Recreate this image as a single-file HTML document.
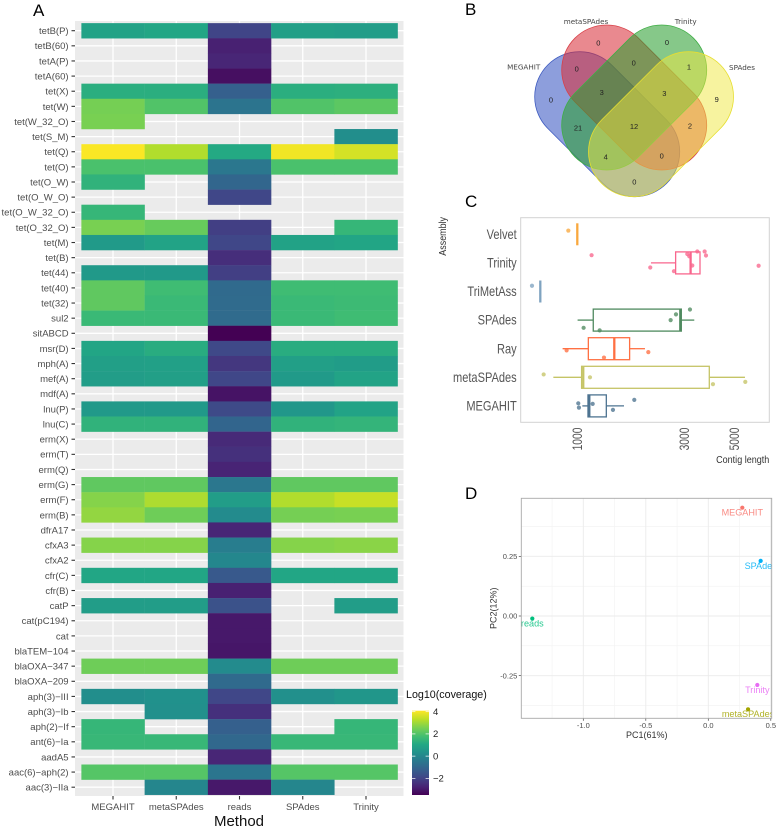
<!DOCTYPE html>
<html lang="en">
<head>
<meta charset="utf-8">
<title>Antibiotic resistance gene coverage, assembly comparison</title>
<style>
html,body{margin:0;padding:0;background:#fff;}
svg{display:block;font-family:"Liberation Sans",Arial,sans-serif;}
</style>
</head>
<body>
<svg id="fig" xmlns="http://www.w3.org/2000/svg" width="777" height="828" viewBox="0 0 777 828">
  <defs>
    <linearGradient id="viridisGrad" x1="0" y1="1" x2="0" y2="0"></linearGradient>
    <clipPath id="pcaClip"><rect x="521.3" y="498.3" width="250.4" height="220"></rect></clipPath>
  </defs>

  <text x="33" y="16" font-size="17">A</text>
  <text x="465" y="15" font-size="17">B</text>
  <text x="465" y="207" font-size="17">C</text>
  <text x="465" y="499" font-size="17">D</text>

  <g id="heatmap"></g>

  <g id="venn">
    <rect x="-83.9" y="-45" width="167.8" height="90" rx="45" ry="45" transform="translate(607.2,124.2) rotate(45)" fill="#2f4fc0" fill-opacity="0.55" stroke="#3f5cc0" stroke-width="0.8"></rect>
    <rect x="-83.9" y="-45" width="167.8" height="90" rx="45" ry="45" transform="translate(634.2,97.5) rotate(45)" fill="#d8303a" fill-opacity="0.57" stroke="#d84048" stroke-width="0.8"></rect>
    <rect x="-83.9" y="-45" width="167.8" height="90" rx="45" ry="45" transform="translate(634.2,97.5) rotate(-45)" fill="#2a9f30" fill-opacity="0.57" stroke="#3fae45" stroke-width="0.8"></rect>
    <rect x="-83.9" y="-45" width="167.8" height="90" rx="45" ry="45" transform="translate(661,124.2) rotate(-45)" fill="#f0e840" fill-opacity="0.5" stroke="#e6de30" stroke-width="0.8"></rect>
    <g font-size="7.2" fill="#444" text-anchor="middle" font-family="'DejaVu Sans',sans-serif">
      <text x="523.7" y="69.5">MEGAHIT</text>
      <text x="586" y="24">metaSPAdes</text>
      <text x="685.7" y="24">Trinity</text>
      <text x="742" y="70">SPAdes</text>
    </g>
    <g font-size="7.5" fill="#222" text-anchor="middle">
      <text x="598.3" y="45.5">0</text>
      <text x="667" y="44.8">0</text>
      <text x="576.7" y="71.6">0</text>
      <text x="633.7" y="65.7">0</text>
      <text x="689" y="69.7">1</text>
      <text x="601.7" y="95">3</text>
      <text x="664.3" y="96">3</text>
      <text x="551" y="102.6">0</text>
      <text x="716.7" y="102">9</text>
      <text x="578" y="130.6">21</text>
      <text x="634" y="129">12</text>
      <text x="690" y="128.6">2</text>
      <text x="605.7" y="159.3">4</text>
      <text x="661.7" y="158.6">0</text>
      <text x="634.3" y="184.3">0</text>
    </g>
  </g>

  <g id="boxplot"></g>
  <g id="pca"></g>
</svg>

<script>
// ---------- Panel A data ----------
const genes = ["tetB(P)","tetB(60)","tetA(P)","tetA(60)","tet(X)","tet(W)","tet(W_32_O)","tet(S_M)","tet(Q)","tet(O)","tet(O_W)","tet(O_W_O)","tet(O_W_32_O)","tet(O_32_O)","tet(M)","tet(B)","tet(44)","tet(40)","tet(32)","sul2","sitABCD","msr(D)","mph(A)","mef(A)","mdf(A)","lnu(P)","lnu(C)","erm(X)","erm(T)","erm(Q)","erm(G)","erm(F)","erm(B)","dfrA17","cfxA3","cfxA2","cfr(C)","cfr(B)","catP","cat(pC194)","cat","blaTEM−104","blaOXA−347","blaOXA−209","aph(3)−III","aph(3)−Ib","aph(2)−If","ant(6)−Ia","aadA5","aac(6)−aph(2)","aac(3)−IIa"];
const methods = ["MEGAHIT","metaSPAdes","reads","SPAdes","Trinity"];
const coverageMegahit = [0.85,null,null,null,1.25,2.5,2.55,null,4.05,1.9,1.4,null,1.5,2.55,0.6,null,0.55,2.2,2.2,1.6,null,0.95,0.75,0.7,null,0.55,1.4,null,null,null,2.2,2.7,2.85,null,2.7,null,1.0,null,0.7,null,null,null,2.4,null,0.2,null,1.5,1.55,null,2.05,null];
const coverageMetaspades = [1.0,null,null,null,1.25,2.0,null,null,3.2,1.9,null,null,null,2.3,0.9,null,0.55,1.7,1.6,1.6,null,1.2,0.8,0.75,null,0.55,1.4,null,null,null,2.2,3.15,2.4,null,2.7,null,1.0,null,0.7,null,null,null,2.4,null,0.3,0.25,null,1.55,null,2.05,-0.05];
const coverageReads = [-1.95,-2.8,-2.7,-3.2,-1.2,-0.6,null,null,1.1,-0.5,-1.0,-1.9,null,-2.1,-1.9,-2.5,-2.1,-0.9,-0.85,-0.85,-3.5,-1.85,-2.3,-1.9,-3.1,-1.8,-1.05,-2.6,-2.45,-2.75,-0.5,0.7,0.1,-2.7,-0.3,0.0,-1.4,-2.8,-1.6,-3.0,-3.0,-3.05,0.1,-0.9,-1.9,-2.45,-1.2,-0.95,-2.7,-0.55,-3.0];
const coverageSpades = [0.75,null,null,null,1.25,2.0,null,null,3.95,1.9,null,null,null,null,0.85,null,null,1.7,1.6,1.6,null,1.2,0.75,0.6,null,0.5,1.4,null,null,null,2.2,3.2,2.5,null,2.7,null,1.0,null,null,null,null,null,2.4,null,0.25,null,null,1.55,null,2.05,-0.05];
const coverageTrinity = [0.7,null,null,null,1.3,2.15,null,0.2,3.6,1.9,null,null,null,1.5,0.95,null,null,1.7,1.65,1.7,null,1.2,0.65,0.9,null,0.9,1.45,null,null,null,2.2,3.45,2.55,null,2.75,null,1.0,null,0.7,null,null,null,2.4,null,0.45,null,1.5,1.55,null,2.05,null];
const coverageTicks = [-2,0,2,4];
const viridisStops = ["#440154","#482475","#414487","#355f8d","#2a788e","#21918c","#22a884","#44bf70","#7ad151","#bddf26","#fde725"];

// ---------- Panel C data ----------
const assemblies = ["Velvet","Trinity","TriMetAss","SPAdes","Ray","metaSPAdes","MEGAHIT"];
const whiskerLow = [1000,2130,684,1003,860,782,1053];
const quartile1 = [1000,2744,684,1178,1120,1045,1116];
const medians = [1000,3200,684,2879,1462,1063,1131];
const quartile3 = [1000,3524,684,2909,1711,3877,1347];
const whiskerHigh = [1000,3524,684,3323,2003,5591,1615];
const contigValues = [[912],[1158,2115,2697,3093,3157,3428,3696,3747,3256,6432],[628],[1067,1258,2607,2754,3179],[896,1315,2073],[708,1139,4025,5610],[1010,1017,1171,1442,1795]];
const contigJitter = [[-0.13],[-0.27,0.16,0.29,-0.31,-0.23,-0.4,-0.4,-0.26,0.09,0.1],[-0.2],[0.27,0.36,0,-0.2,-0.37],[0.06,0.31,0.12],[-0.1,0,0.24,0.16],[-0.09,0.06,-0.07,0.14,-0.21]];
const assemblyColors = ["#f9a83e","#f8668d","#7fa3c0","#4f8a5f","#ff7043","#c5c466","#4d7390"];
const lengthTicks = [1000,3000,5000];

// ---------- Panel D data ----------
const pcaSamples = ["MEGAHIT","metaSPAdes","reads","SPAdes","Trinity"];
const pc1Values = [0.272,0.318,-1.408,0.419,0.392];
const pc2Values = [0.454,-0.391,-0.011,0.231,-0.289];
const pcaColors = ["#F8766D","#A3A500","#00BF7D","#00B0F6","#E76BF3"];
const pc1Ticks = [-1.0,-0.5,0.0,0.5];
const pc1MinorTicks = [-1.25,-0.75,-0.25,0.25];
const pc2Ticks = [-0.25,0.0,0.25];
const pc2MinorTicks = [-0.375,-0.125,0.125,0.375];

const NS = "http://www.w3.org/2000/svg";
function make(parent, tag, attrs, content) {
  const node = document.createElementNS(NS, tag);
  for (const k in attrs) node.setAttribute(k, attrs[k]);
  if (content !== undefined) node.textContent = content;
  parent.appendChild(node);
  return node;
}

// Colour scale
const covMin = -3.5, covMax = 4.09;
function hexToRgb(h){return [1,3,5].map(i=>parseInt(h.substr(i,2),16));}
function viridis(t){
  const p = Math.max(0,Math.min(1,t))*(viridisStops.length-1);
  const i = Math.min(Math.floor(p),viridisStops.length-2);
  const f = p-i, a = hexToRgb(viridisStops[i]), b = hexToRgb(viridisStops[i+1]);
  return "rgb("+a.map((c,j)=>Math.round(c+(b[j]-c)*f)).join(",")+")";
}
function covColor(v){return viridis((v-covMin)/(covMax-covMin));}

// ---------- Panel A ----------
(function(){
  const g = document.getElementById("heatmap");
  const rowStep = 15.13, colStep = 63.25;
  const yRow = i => 30.7 + rowStep*i;
  const xCol = j => 113 + colStep*j;
  const seriesByMethod = [coverageMegahit,coverageMetaspades,coverageReads,coverageSpades,coverageTrinity];

  const bg = make(g,"rect",{x:75,y:21,width:328.5,height:775,fill:"#ebebeb"});
  
  

  genes.forEach((gene,i)=>{
    const line = make(g,"line",{x1:75,x2:403.5,y1:yRow(i),y2:yRow(i),stroke:"#fff","stroke-width":1.3});
    
    
  });
  methods.forEach((m,j)=>{
    const line = make(g,"line",{y1:21,y2:796,x1:xCol(j),x2:xCol(j),stroke:"#fff","stroke-width":1.3});
    
    
  });

  seriesByMethod.forEach((series,j)=>{
    series.forEach((v,i)=>{
      if (v===null) return;
      const cell = make(g,"rect",{x:xCol(j)-colStep/2,y:yRow(i)-rowStep/2,width:colStep+0.2,height:rowStep+0.2,fill:covColor(v)});
      
      
    });
  });

  genes.forEach((gene,i)=>{
    const tick = make(g,"line",{x1:71.5,x2:75,y1:yRow(i),y2:yRow(i),stroke:"#333","stroke-width":1.1});
    
    
    const label = make(g,"text",{x:68.6,y:yRow(i)+3.4,"text-anchor":"end","font-size":9.5,fill:"#4d4d4d"},gene);
    
    
  });
  methods.forEach((m,j)=>{
    const tick = make(g,"line",{y1:796,y2:799.5,x1:xCol(j),x2:xCol(j),stroke:"#333","stroke-width":1.1});
    
    
    const label = make(g,"text",{x:xCol(j),y:810,"text-anchor":"middle","font-size":9.5,fill:"#4d4d4d"},m);
    
    
  });

  const title = make(g,"text",{x:239,y:826,"text-anchor":"middle","font-size":15,fill:"#111"},"Method");
  
  

  // legend
  const grad = document.getElementById("viridisGrad");
  viridisStops.forEach((c,i)=>{
    make(grad,"stop",{offset:(i/(viridisStops.length-1)*100)+"%","stop-color":c});
  });
  const legTitle = make(g,"text",{x:406,y:697.8,"font-size":10.7,fill:"#111"},"Log10(coverage)");
  
  
  const bar = make(g,"rect",{x:412,y:710.7,width:17,height:84.3,fill:"url(#viridisGrad)"});
  
  
  const yLeg = v => 795 - (v-covMin)/(covMax-covMin)*84.3;
  coverageTicks.forEach(v=>{
    const t1 = make(g,"line",{x1:412,x2:415.4,y1:yLeg(v),y2:yLeg(v),stroke:"#fff","stroke-width":0.7});
    
    
    const t2 = make(g,"line",{x1:425.6,x2:429,y1:yLeg(v),y2:yLeg(v),stroke:"#fff","stroke-width":0.7});
    
    
    const lab = make(g,"text",{x:433,y:yLeg(v)+3.3,"font-size":9.5,fill:"#222"},String(v).replace("-","−"));
    
    
  });
})();

// ---------- Panel C ----------
(function(){
  const g = document.getElementById("boxplot");
  const xL = v => 577.3 + 224.3*Math.log10(v/1000);
  const yC = i => 234.3 + 28.6*i;
  const band = 28.6, half = 11;

  const frame = make(g,"rect",{x:520.7,y:217.7,width:248.6,height:204.6,fill:"#fff",stroke:"#d2d2d2","stroke-width":1});
  
  

  assemblies.forEach((name,i)=>{
    const c = assemblyColors[i], y = yC(i);
    const label = make(g,"text",{transform:"translate(516.7,"+(y+4.6)+") scale(0.82,1)","text-anchor":"end","font-size":13.5,fill:"#555"},name);
    
    

    const wl = make(g,"line",{x1:xL(whiskerLow[i]),x2:xL(quartile1[i]),y1:y,y2:y,stroke:c,"stroke-width":1.3});
    
    
    const wh = make(g,"line",{x1:xL(quartile3[i]),x2:xL(whiskerHigh[i]),y1:y,y2:y,stroke:c,"stroke-width":1.3});
    
    
    const box = make(g,"rect",{x:xL(quartile1[i]),y:y-half,width:xL(quartile3[i])-xL(quartile1[i]),height:half*2,fill:"none",stroke:c,"stroke-width":1.3});
    
    
    const med = make(g,"line",{x1:xL(medians[i]),x2:xL(medians[i]),y1:y-half,y2:y+half,stroke:c,"stroke-width":2.3});
    
    

    contigValues[i].forEach((v,k)=>{
      const pt = make(g,"circle",{cx:xL(v),cy:y+contigJitter[i][k]*band,r:2.1,fill:c,"fill-opacity":0.78});
      
      
    });
  });

  lengthTicks.forEach(v=>{
    const lab = make(g,"text",{transform:"translate("+(xL(v)+4.8)+",427.6) rotate(-90) scale(0.76,1)","text-anchor":"end","font-size":13.5,fill:"#555"},String(v));
    
    
  });
  const yTitle = make(g,"text",{transform:"translate(446,255.7) rotate(-90) scale(0.86,1)","font-size":10.4,fill:"#333"},"Assembly");
  
  
  const xTitle = make(g,"text",{transform:"translate(769.3,463) scale(0.86,1)","text-anchor":"end","font-size":10.5,fill:"#333"},"Contig length");
  
  
})();

// ---------- Panel D ----------
(function(){
  const g = document.getElementById("pca");
  const xP = v => 708.3 + 125*v;
  const yP = v => 616 - 238.6*v;

  pc1MinorTicks.forEach(v=>{
    const l = make(g,"line",{x1:xP(v),x2:xP(v),y1:498.3,y2:718.3,stroke:"#f2f2f2","stroke-width":0.6});
    
    
  });
  pc2MinorTicks.forEach(v=>{
    const l = make(g,"line",{x1:521.3,x2:771.7,y1:yP(v),y2:yP(v),stroke:"#f2f2f2","stroke-width":0.6});
    
    
  });
  pc1Ticks.forEach(v=>{
    const l = make(g,"line",{x1:xP(v),x2:xP(v),y1:498.3,y2:718.3,stroke:"#ebebeb","stroke-width":0.9});
    
    
    const t = make(g,"line",{x1:xP(v),x2:xP(v),y1:718.3,y2:720.8,stroke:"#444","stroke-width":0.7});
    
    
    const lab = make(g,"text",{x:xP(v),y:728,"text-anchor":"middle","font-size":7.5,fill:"#4d4d4d"},v.toFixed(1));
    
    
  });
  pc2Ticks.forEach(v=>{
    const l = make(g,"line",{x1:521.3,x2:771.7,y1:yP(v),y2:yP(v),stroke:"#ebebeb","stroke-width":0.9});
    
    
    const t = make(g,"line",{x1:518.8,x2:521.3,y1:yP(v),y2:yP(v),stroke:"#444","stroke-width":0.7});
    
    
    const lab = make(g,"text",{x:517.3,y:yP(v)+2.7,"text-anchor":"end","font-size":7.5,fill:"#4d4d4d"},v.toFixed(2));
    
    
  });

  const clipped = make(g,"g",{"clip-path":"url(#pcaClip)"});
  
  
  pcaSamples.forEach((name,i)=>{
    const px = xP(pc1Values[i]), py = yP(pc2Values[i]);
    const pt = make(clipped,"circle",{cx:px,cy:py,r:2.1,fill:pcaColors[i]});
    
    
    const lab = make(clipped,"text",{x:px,y:py+7.9,"text-anchor":"middle","font-size":9.1,fill:pcaColors[i],"fill-opacity":0.85},name);
    
    
  });

  const frame = make(g,"rect",{x:521.3,y:498.3,width:250.4,height:220,fill:"none",stroke:"#a8a8a8","stroke-width":0.9});
  
  

  const xTitle = make(g,"text",{x:646.7,y:738,"text-anchor":"middle","font-size":9,fill:"#333"},"PC1(61%)");
  
  
  const yTitle = make(g,"text",{transform:"translate(496.6,608.3) rotate(-90)","text-anchor":"middle","font-size":9,fill:"#333"},"PC2(12%)");
  
  
})();
</script>
</body>
</html>
